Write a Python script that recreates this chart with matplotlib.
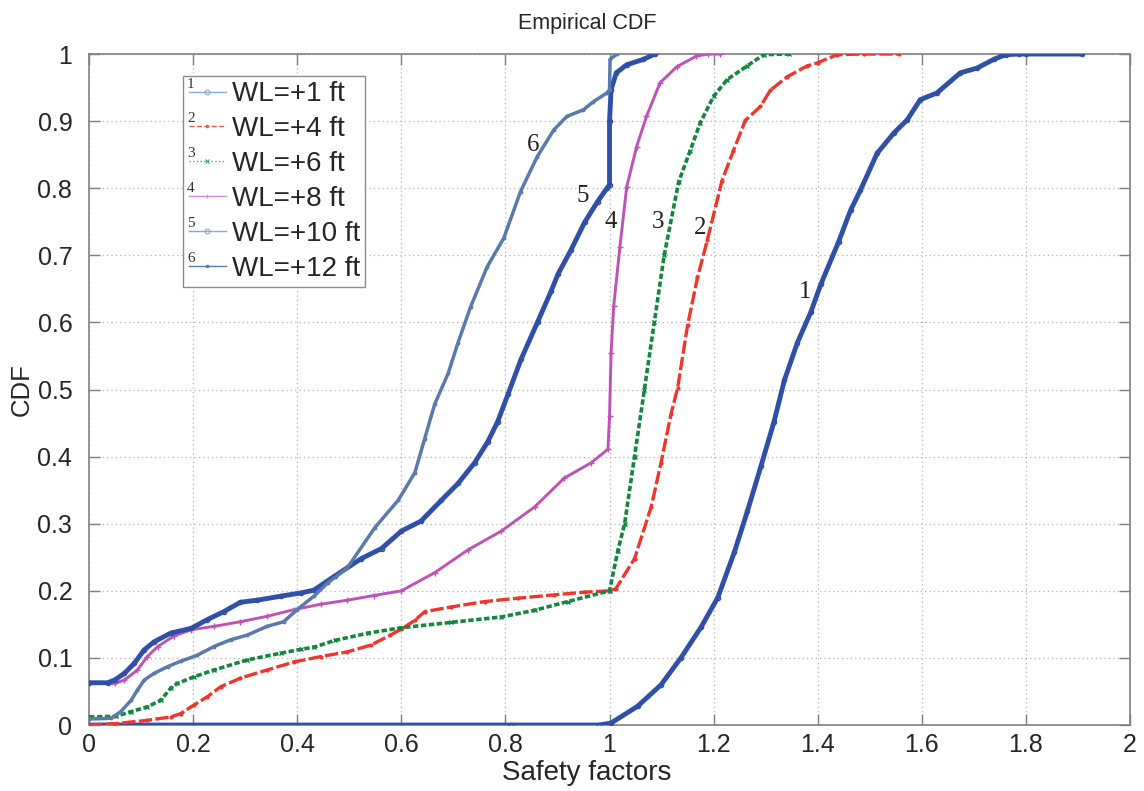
import matplotlib
matplotlib.use('Agg')
import matplotlib.pyplot as plt
from matplotlib.lines import Line2D

plt.rcParams['font.family'] = ['Liberation Sans', 'DejaVu Sans']

# safety factor / CDF pairs for each water level
sf_1 = [0.0, 0.81, 0.98, 1.003, 1.054, 1.099, 1.137, 1.176, 1.208, 1.240, 1.265, 1.291,
        1.316, 1.336, 1.361, 1.387, 1.406, 1.440, 1.463, 1.482, 1.514, 1.546, 1.572,
        1.597, 1.629, 1.674, 1.706, 1.738, 1.761, 1.787, 1.80, 1.907]
cdf_1 = [0.0, 0.0, 0.0, 0.003, 0.028, 0.060, 0.100, 0.146, 0.190, 0.258, 0.319, 0.386,
         0.452, 0.514, 0.570, 0.616, 0.657, 0.720, 0.767, 0.797, 0.852, 0.882, 0.902,
         0.932, 0.942, 0.972, 0.979, 0.992, 0.999, 1.0, 1.0, 1.0]

sf_2 = [0.0, 0.049, 0.112, 0.157, 0.176, 0.202, 0.227, 0.253, 0.291, 0.342, 0.394, 0.445,
        0.496, 0.541, 0.579, 0.600, 0.626, 0.645, 0.696, 0.760, 0.824, 0.894, 0.952,
        1.0, 1.012, 1.048, 1.080, 1.099, 1.118, 1.131, 1.150, 1.169, 1.188, 1.216, 1.238,
        1.261, 1.290, 1.309, 1.341, 1.379, 1.400, 1.437, 1.488, 1.556]
cdf_2 = [0.0, 0.002, 0.007, 0.012, 0.017, 0.030, 0.042, 0.057, 0.070, 0.082, 0.094, 0.102,
         0.109, 0.119, 0.134, 0.143, 0.156, 0.169, 0.176, 0.184, 0.189, 0.194, 0.198,
         0.200, 0.203, 0.248, 0.325, 0.391, 0.463, 0.503, 0.596, 0.667, 0.723, 0.811, 0.856,
         0.901, 0.922, 0.946, 0.966, 0.982, 0.987, 0.999, 1.0, 1.0]

sf_3 = [0.0, 0.052, 0.081, 0.112, 0.138, 0.157, 0.170, 0.202, 0.240, 0.304, 0.368, 0.408,
        0.432, 0.472, 0.536, 0.600, 0.696, 0.792, 0.856, 0.920, 1.0, 1.016, 1.029, 1.048,
        1.067, 1.086, 1.105, 1.133, 1.155, 1.174, 1.200, 1.226, 1.264, 1.296, 1.344]
cdf_3 = [0.012, 0.013, 0.020, 0.027, 0.037, 0.055, 0.062, 0.072, 0.082, 0.097, 0.107, 0.113,
         0.116, 0.126, 0.137, 0.145, 0.153, 0.161, 0.171, 0.184, 0.200, 0.260, 0.300, 0.400,
         0.500, 0.600, 0.700, 0.810, 0.856, 0.897, 0.937, 0.962, 0.982, 0.999, 1.0]

sf_4 = [0.0, 0.049, 0.068, 0.093, 0.112, 0.132, 0.164, 0.196, 0.240, 0.291, 0.342, 0.394,
        0.445, 0.496, 0.547, 0.600, 0.664, 0.728, 0.792, 0.856, 0.913, 0.965, 0.997, 1.0,
        1.003, 1.008, 1.020, 1.033, 1.052, 1.071, 1.097, 1.129, 1.167, 1.190, 1.213]
cdf_4 = [0.062, 0.062, 0.067, 0.082, 0.102, 0.117, 0.133, 0.142, 0.147, 0.154, 0.162, 0.172,
         0.180, 0.186, 0.193, 0.200, 0.227, 0.261, 0.289, 0.325, 0.368, 0.391, 0.411, 0.460,
         0.555, 0.624, 0.713, 0.802, 0.862, 0.907, 0.957, 0.981, 0.997, 1.0, 1.0]

sf_5 = [0.0, 0.036, 0.049, 0.068, 0.087, 0.106, 0.125, 0.157, 0.196, 0.227, 0.259, 0.291,
        0.323, 0.368, 0.408, 0.432, 0.472, 0.523, 0.562, 0.600, 0.638, 0.677, 0.709, 0.741,
        0.766, 0.785, 0.805, 0.830, 0.862, 0.888, 0.901, 0.926, 0.952, 0.977, 0.995, 1.0,
        1.0, 1.003, 1.013, 1.033, 1.065, 1.087]
cdf_5 = [0.063, 0.063, 0.067, 0.077, 0.092, 0.112, 0.124, 0.137, 0.144, 0.157, 0.169, 0.183,
         0.186, 0.192, 0.197, 0.201, 0.222, 0.248, 0.263, 0.289, 0.304, 0.335, 0.360, 0.391,
         0.422, 0.452, 0.493, 0.545, 0.601, 0.647, 0.672, 0.708, 0.749, 0.780, 0.800, 0.805,
         0.900, 0.947, 0.972, 0.984, 0.992, 1.0]

sf_6 = [0.0, 0.042, 0.061, 0.081, 0.093, 0.106, 0.125, 0.151, 0.176, 0.208, 0.240, 0.272,
        0.304, 0.342, 0.374, 0.400, 0.432, 0.459, 0.496, 0.549, 0.594, 0.626, 0.645, 0.664,
        0.690, 0.709, 0.733, 0.765, 0.797, 0.829, 0.861, 0.893, 0.918, 0.950, 0.969, 0.995,
        1.0, 1.001, 1.014]
cdf_6 = [0.009, 0.010, 0.020, 0.037, 0.052, 0.067, 0.077, 0.087, 0.095, 0.104, 0.117, 0.127,
         0.134, 0.147, 0.154, 0.172, 0.192, 0.212, 0.234, 0.294, 0.335, 0.376, 0.427, 0.478,
         0.524, 0.570, 0.623, 0.683, 0.726, 0.795, 0.847, 0.887, 0.907, 0.917, 0.929, 0.942,
         0.947, 0.992, 1.0]

series_labels = ['WL=+1 ft', 'WL=+4 ft', 'WL=+6 ft', 'WL=+8 ft', 'WL=+10 ft', 'WL=+12 ft']
curve_tags = ['1', '2', '3', '4', '5', '6']
tag_x = [1.376, 1.174, 1.093, 1.003, 0.949, 0.853]
tag_y = [0.645, 0.741, 0.750, 0.750, 0.788, 0.864]

x_ticks = [0, 0.2, 0.4, 0.6, 0.8, 1, 1.2, 1.4, 1.6, 1.8, 2]
y_ticks = [0, 0.1, 0.2, 0.3, 0.4, 0.5, 0.6, 0.7, 0.8, 0.9, 1]

# line styles per curve: colour, linestyle, marker, line width, marker size
styles = [
    dict(color='#2f4fa9', ls='-', marker='o', lw=3.5, ms=3.0, mfc='none'),
    dict(color='#f0362c', ls=(0, (4, 1.0)), marker='.', lw=2.4, ms=4, mfc='#f0362c'),
    dict(color='#13873d', ls=(0, (1.5, 0.7)), marker='x', lw=2.6, ms=3.0, mfc='#13873d'),
    dict(color='#c052b6', ls='-', marker='+', lw=2.1, ms=4.5, mfc='#c052b6'),
    dict(color='#2f4fa9', ls='-', marker='o', lw=3.5, ms=3.0, mfc='none'),
    dict(color='#5a79ac', ls='-', marker='.', lw=2.5, ms=3.5, mfc='#5a79ac'),
]
legend_styles = ['-', '--', ':', '-', '-', '-']
legend_colors = ['#8ea6dc', '#f25a50', '#4fa070', '#d489cc', '#8ea6dc', '#5a79ac']

xs = [sf_1, sf_2, sf_3, sf_4, sf_5, sf_6]
ys = [cdf_1, cdf_2, cdf_3, cdf_4, cdf_5, cdf_6]

fig = plt.figure(figsize=(11.44, 7.91), dpi=100)
ax = fig.add_axes([0.0778, 0.0834, 0.9100, 0.8483])

for x, y, st in zip(xs, ys, styles):
    ax.plot(x, y, color=st['color'], linestyle=st['ls'], linewidth=st['lw'],
            marker=st['marker'], markersize=st['ms'], markerfacecolor=st['mfc'],
            markeredgecolor=st['color'], markeredgewidth=1.0, zorder=3)

for t, tx, ty in zip(curve_tags, tag_x, tag_y):
    ax.text(tx, ty, t, family=['Liberation Serif', 'DejaVu Serif'], fontsize=18,
            color='#222222', ha='center', va='center', zorder=4)

ax.set_xlim(0, 2)
ax.set_ylim(0, 1)
ax.set_xticks(x_ticks)
ax.set_xticklabels(['%g' % v for v in x_ticks])
ax.set_yticks(y_ticks)
ax.set_yticklabels(['%g' % v for v in y_ticks])
ax.tick_params(direction='in', length=8, width=1, colors='#7f7f7f', labelcolor='#262626',
               labelsize=18, top=True, right=True)
ax.tick_params(axis='x', pad=6)
ax.tick_params(axis='y', pad=12)
ax.grid(True, linestyle=(0, (1, 2.5)), color='#b4b4b4', linewidth=0.9)
ax.set_axisbelow(True)
for sp in ax.spines.values():
    sp.set_color('#808080')
    sp.set_linewidth(1.2)

ax.set_title('Empirical CDF', fontsize=15.5, color='#262626', x=0.4785, y=1.0, pad=18)
ax.set_xlabel('Safety factors', fontsize=20, color='#262626')
ax.xaxis.set_label_coords(0.4785, -0.052)
ax.set_ylabel('CDF', fontsize=18.5, color='#262626')
ax.yaxis.set_label_coords(-0.0535, 0.5)

# thin proxy lines for the legend
handles = [Line2D([], [], color=c, linestyle=ls, linewidth=1.0, marker=st['marker'],
                  markersize=3.5, markerfacecolor='none' if st['mfc'] == 'none' else c,
                  markeredgecolor=c, markeredgewidth=0.8)
           for c, ls, st in zip(legend_colors, legend_styles, styles)]
leg = ax.legend(handles, series_labels, loc='upper left', bbox_to_anchor=(0.0903, 0.9677),
                borderaxespad=0, fontsize=20, handlelength=1.35, handletextpad=0.2,
                labelspacing=0.32, borderpad=0.2, fancybox=False, framealpha=1,
                edgecolor='#8c8c8c')
leg.get_frame().set_linewidth(1.0)
for txt in leg.get_texts():
    txt.set_color('#262626')

# small curve numbers sitting above each legend line sample
fig.canvas.draw()
renderer = fig.canvas.get_renderer()
for line, t in zip(leg.get_lines(), curve_tags):
    bb = line.get_window_extent(renderer)
    fig.text(bb.x0 + 1, (bb.y0 + bb.y1) / 2 + 1, t, transform=None,
             family=['Liberation Serif', 'DejaVu Serif'], fontsize=11, color='#333333',
             ha='left', va='bottom')

fig.savefig('out.png', dpi=100)
